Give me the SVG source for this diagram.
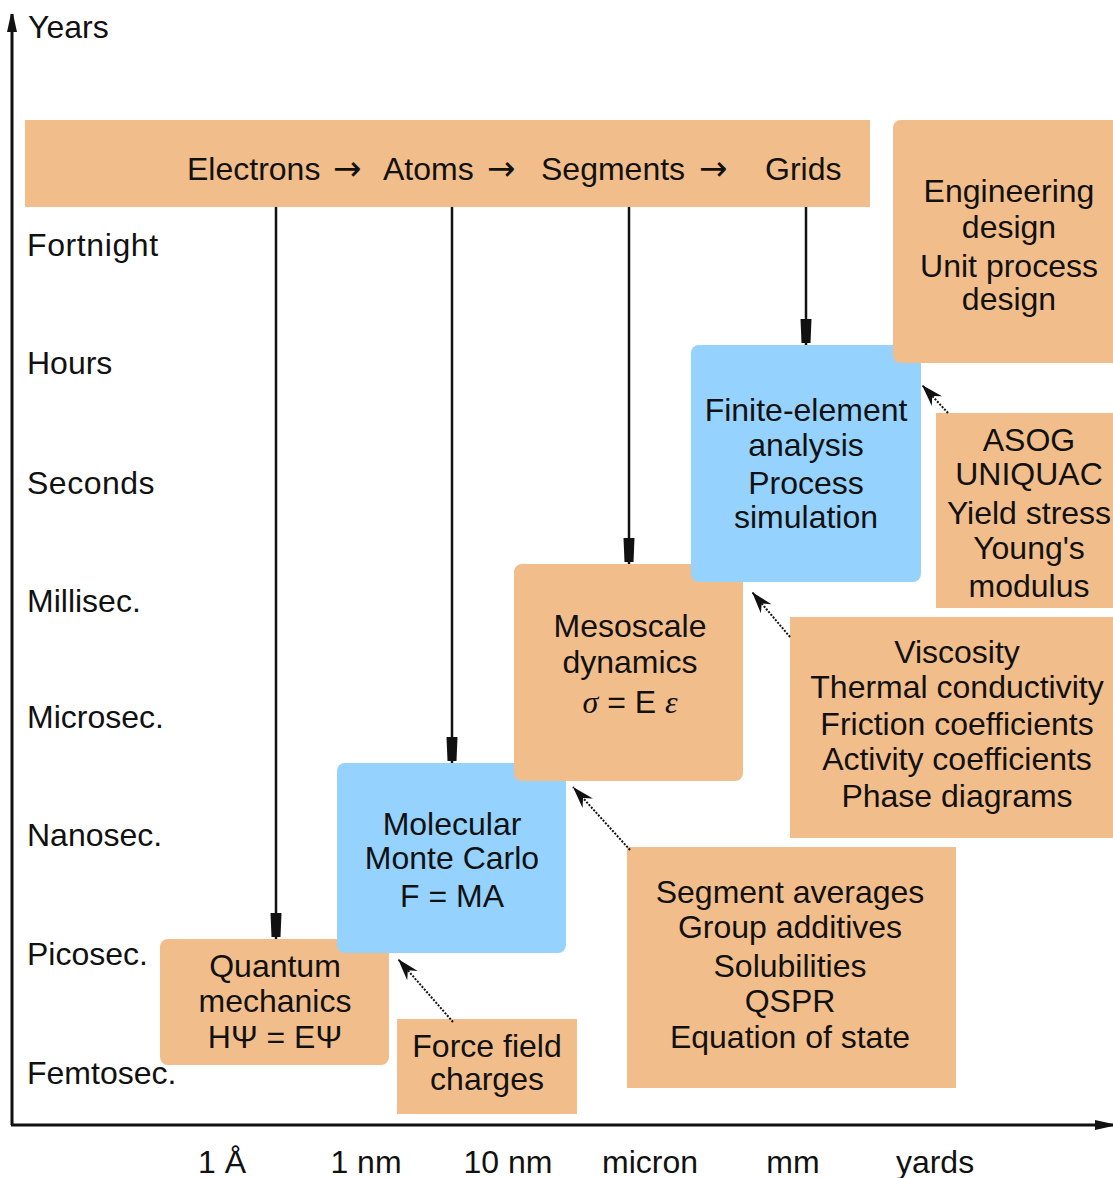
<svg xmlns="http://www.w3.org/2000/svg" width="1113" height="1178" viewBox="0 0 1113 1178">
<style>
text{font-family:"Liberation Sans",Arial,sans-serif;font-size:32px;fill:#111}
.c{text-anchor:middle}
.o{fill:#F1BD8B}
.b{fill:#96D2FE}
.ln{stroke:#111;stroke-width:2.5;fill:none}
.dg{stroke:#111;stroke-width:2;fill:none;stroke-dasharray:2 1.5}
.ax{stroke:#111;stroke-width:3;fill:none}
.g{font-family:"Liberation Serif","DejaVu Serif",serif;font-style:italic}
.ar{font-family:"DejaVu Sans",sans-serif;font-size:34px}
</style>
<defs>
<marker id="blk" markerUnits="userSpaceOnUse" viewBox="-30 -8 32 16" refX="0" refY="0" markerWidth="32" markerHeight="16" orient="auto">
<path d="M-26,-5.5 L-2,-4.5 L-2,4.5 L-26,5.5 Z" fill="#111"/>
</marker>
<marker id="tri" markerUnits="userSpaceOnUse" viewBox="-24 -9 26 18" refX="0" refY="0" markerWidth="26" markerHeight="18" orient="auto">
<path d="M0,0 L-22,-7 L-15,0 L-22,7 Z" fill="#111"/>
</marker>
<marker id="axh" markerUnits="userSpaceOnUse" viewBox="-22 -7 24 14" refX="0" refY="0" markerWidth="24" markerHeight="14" orient="auto">
<path d="M0,-1 L-18,-5 L-18,5 L0,1 Z" fill="#111"/>
</marker>
</defs>

<g id="axes">
<line class="ax" x1="12" y1="1125" x2="12" y2="14" marker-end="url(#axh)"/>
<line class="ax" x1="11" y1="1125" x2="1113" y2="1125" marker-end="url(#axh)"/>
<text x="28" y="38">Years</text>
<text x="27" y="256" letter-spacing="0.6">Fortnight</text>
<text x="27" y="374">Hours</text>
<text x="27" y="494" letter-spacing="0.5">Seconds</text>
<text x="27" y="612">Millisec.</text>
<text x="27" y="728">Microsec.</text>
<text x="27" y="846">Nanosec.</text>
<text x="27" y="965">Picosec.</text>
<text x="27" y="1084">Femtosec.</text>
<text class="c" x="222" y="1173">1 Å</text>
<text class="c" x="366" y="1173">1 nm</text>
<text class="c" x="508" y="1173">10 nm</text>
<text class="c" x="650" y="1173">micron</text>
<text class="c" x="793" y="1173">mm</text>
<text class="c" x="935" y="1173">yards</text>
</g>

<g id="header">
<rect class="o" x="25" y="120" width="845" height="87"/>
<text y="180"><tspan x="187">Electrons</tspan><tspan class="ar" x="333">→</tspan><tspan x="383">Atoms</tspan><tspan class="ar" x="487">→</tspan><tspan x="541">Segments</tspan><tspan class="ar" x="699">→</tspan><tspan x="765">Grids</tspan></text>
</g>

<g id="quantum">
<rect class="o" x="160" y="939" width="229" height="126" rx="8"/>
<text class="c" x="275" y="977">Quantum</text>
<text class="c" x="275" y="1012">mechanics</text>
<text class="c" x="275" y="1048">HΨ = EΨ</text>
</g>

<g id="molecular">
<rect class="b" x="337" y="763" width="229" height="190" rx="8"/>
<text class="c" x="452" y="835">Molecular</text>
<text class="c" x="452" y="869">Monte Carlo</text>
<text class="c" x="452" y="907">F = MA</text>
</g>

<g id="mesoscale">
<rect class="o" x="514" y="564" width="229" height="217" rx="8"/>
<text class="c" x="630" y="637">Mesoscale</text>
<text class="c" x="630" y="673">dynamics</text>
<text class="c" x="630" y="713"><tspan class="g">σ</tspan> = E <tspan class="g">ε</tspan></text>
</g>

<g id="finite">
<rect class="b" x="691" y="345" width="230" height="237" rx="8"/>
<text class="c" x="806" y="421">Finite-element</text>
<text class="c" x="806" y="456">analysis</text>
<text class="c" x="806" y="494">Process</text>
<text class="c" x="806" y="528">simulation</text>
</g>

<g id="engineering">
<rect class="o" x="893" y="120" width="240" height="243" rx="8"/>
<text class="c" x="1009" y="202">Engineering</text>
<text class="c" x="1009" y="238">design</text>
<text class="c" x="1009" y="277">Unit process</text>
<text class="c" x="1009" y="310">design</text>
</g>

<g id="asog">
<rect class="o" x="936" y="413" width="190" height="195"/>
<text class="c" x="1029" y="451">ASOG</text>
<text class="c" x="1029" y="485">UNIQUAC</text>
<text class="c" x="1029" y="524">Yield stress</text>
<text class="c" x="1029" y="559">Young's</text>
<text class="c" x="1029" y="597">modulus</text>
</g>

<g id="viscosity">
<rect class="o" x="790" y="617" width="340" height="221"/>
<text class="c" x="957" y="663">Viscosity</text>
<text class="c" x="957" y="698">Thermal conductivity</text>
<text class="c" x="957" y="735">Friction coefficients</text>
<text class="c" x="957" y="770">Activity coefficients</text>
<text class="c" x="957" y="807">Phase diagrams</text>
</g>

<g id="segment">
<rect class="o" x="627" y="847" width="329" height="241"/>
<text class="c" x="790" y="903">Segment averages</text>
<text class="c" x="790" y="938">Group additives</text>
<text class="c" x="790" y="977">Solubilities</text>
<text class="c" x="790" y="1012">QSPR</text>
<text class="c" x="790" y="1048">Equation of state</text>
</g>

<g id="forcefield">
<rect class="o" x="397" y="1019" width="180" height="95"/>
<text class="c" x="487" y="1057">Force field</text>
<text class="c" x="487" y="1090">charges</text>
</g>

<g id="connectors">
<line class="ln" x1="276" y1="207" x2="276" y2="939" marker-end="url(#blk)"/>
<line class="ln" x1="452" y1="207" x2="452" y2="763" marker-end="url(#blk)"/>
<line class="ln" x1="629" y1="207" x2="629" y2="564" marker-end="url(#blk)"/>
<line class="ln" x1="806" y1="207" x2="806" y2="345" marker-end="url(#blk)"/>
<line class="dg" x1="453" y1="1022" x2="398" y2="959" marker-end="url(#tri)"/>
<line class="dg" x1="630" y1="850" x2="573" y2="787" marker-end="url(#tri)"/>
<line class="dg" x1="790" y1="637" x2="752" y2="592" marker-end="url(#tri)"/>
<line class="dg" x1="948" y1="413" x2="922" y2="385" marker-end="url(#tri)"/>
</g>
</svg>
